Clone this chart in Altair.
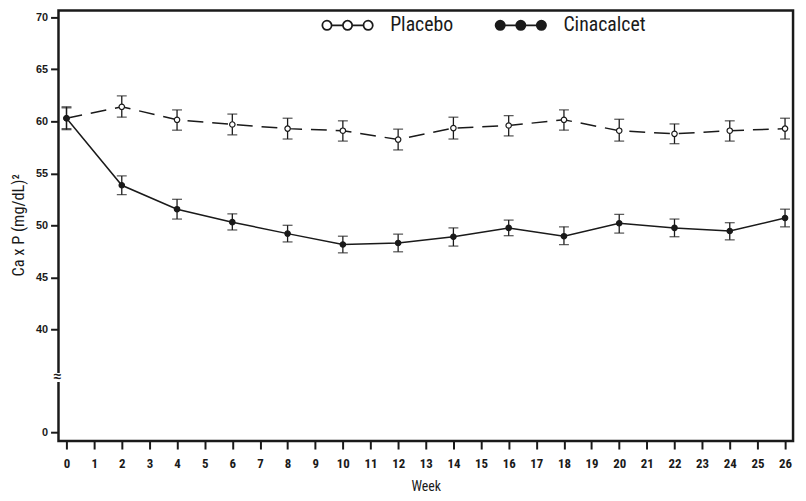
import altair as alt
import pandas as pd

weeks = [0, 2, 4, 6, 8, 10, 12, 14, 16, 18, 20, 22, 24, 26]
placebo_mean = [60.3, 61.4, 60.15, 59.7, 59.3, 59.1, 58.25, 59.35, 59.6, 60.15, 59.1, 58.8, 59.1, 59.3]
placebo_lo = [59.3, 60.4, 59.15, 58.7, 58.3, 58.1, 57.25, 58.3, 58.6, 59.15, 58.1, 57.85, 58.1, 58.3]
placebo_hi = [61.3, 62.45, 61.1, 60.7, 60.3, 60.05, 59.25, 60.4, 60.55, 61.1, 60.2, 59.75, 60.05, 60.3]
cina_mean = [60.3, 53.85, 51.55, 50.3, 49.2, 48.15, 48.3, 48.9, 49.75, 48.95, 50.2, 49.75, 49.45, 50.7]
cina_lo = [59.2, 52.95, 50.6, 49.55, 48.4, 47.35, 47.45, 48.0, 49.0, 48.15, 49.25, 48.9, 48.6, 49.85]
cina_hi = [61.4, 54.75, 52.5, 51.1, 50.0, 48.95, 49.15, 49.75, 50.5, 49.85, 51.05, 50.6, 50.25, 51.55]
groups = ["Placebo", "Cinacalcet"]
y_ticks = [0, 40, 45, 50, 55, 60, 65, 70]
x_ticks = list(range(0, 27))
break_lo, break_hi = 19.5, 23.0

rows = []
for g, m, lo, hi in [(groups[0], placebo_mean, placebo_lo, placebo_hi),
                     (groups[1], cina_mean, cina_lo, cina_hi)]:
    for w, a, b, c in zip(weeks, m, lo, hi):
        rows.append({"week": w, "group": g, "mean": a, "lo": b, "hi": c})
df = pd.DataFrame(rows)

FONT = "'Liberation Sans Narrow', 'Roboto Condensed', 'DejaVu Sans Condensed', Roboto, sans-serif"
BOLDF = "'Liberation Sans', Arial, sans-serif"
XMIN, XMAX = -0.29, 26.29

xscale = alt.Scale(domain=[XMIN, XMAX], nice=False, zero=False)
yscale = alt.Scale(domain=[0, 40, 70], range=[426, 322, 7], zero=False, nice=False)

xaxis = alt.Axis(values=x_ticks, title="Week", grid=False, domain=False,
                 tickSize=8, tickWidth=2, tickColor="#1a1a1a",
                 labelFont=FONT, labelFontSize=13, labelFontWeight="bold",
                 labelColor="#1a1a1a", labelPadding=9,
                 labelOverlap=False, labelFlush=False,
                 titleFont=FONT, titleFontSize=14, titleFontWeight="normal",
                 titleColor="#1a1a1a", titlePadding=9)
yaxis = alt.Axis(values=y_ticks, title="Ca x P (mg/dL)²", grid=False, domain=False,
                 tickSize=8, tickWidth=2, tickColor="#1a1a1a",
                 labelFont=BOLDF, labelFontSize=11, labelFontWeight="bold",
                 labelColor="#1a1a1a", labelPadding=3,
                 titleFont=FONT, titleFontSize=16.5, titleFontWeight="normal",
                 titleColor="#1a1a1a", titlePadding=9)


def X(field):
    return alt.X(field, scale=xscale, axis=xaxis, title="Week")


def Y(field):
    return alt.Y(field, scale=yscale, axis=yaxis, title="Ca x P (mg/dL)²")


base = alt.Chart(df)

line_p = base.transform_filter(alt.datum.group == "Placebo").mark_line(
    color="#1a1a1a", strokeWidth=1.5, strokeDash=[16, 9]).encode(x=X("week:Q"), y=Y("mean:Q"))
line_c = base.transform_filter(alt.datum.group == "Cinacalcet").mark_line(
    color="#1a1a1a", strokeWidth=1.5).encode(x=X("week:Q"), y=Y("mean:Q"))

err = base.mark_errorbar(color="#1a1a1a", ticks={"size": 10, "thickness": 1.3},
                         rule={"strokeWidth": 1.3}).encode(
    x=X("week:Q"), y=Y("lo:Q"), y2="hi:Q")

symbol_path = ("M-4.9,0 A0.9,0.9 0 1,0 -3.1,0 A0.9,0.9 0 1,0 -4.9,0 Z "
               "M-3.1,0 L-0.9,0 "
               "M-0.9,0 A0.9,0.9 0 1,0 0.9,0 A0.9,0.9 0 1,0 -0.9,0 Z "
               "M0.9,0 L3.1,0 "
               "M3.1,0 A0.9,0.9 0 1,0 4.9,0 A0.9,0.9 0 1,0 3.1,0 Z")

points = base.mark_point(filled=True, size=30, stroke="#1a1a1a", strokeWidth=1.2, opacity=1).encode(
    x=X("week:Q"), y=Y("mean:Q"),
    fill=alt.Fill("group:N", scale=alt.Scale(domain=groups, range=["white", "#1a1a1a"]),
                  legend=alt.Legend(title=None, orient="none", direction="horizontal",
                                    legendX=282, legendY=5,
                                    symbolType=symbol_path, symbolSize=108,
                                    symbolStrokeColor="#1a1a1a", symbolStrokeWidth=1.8,
                                    symbolOpacity=1,
                                    labelFont=FONT, labelFontSize=20, labelColor="#1a1a1a",
                                    labelOffset=33, columnPadding=38)),
)

brk = pd.DataFrame({"x": [XMIN], "lo": [break_lo], "hi": [break_hi]})
gap = alt.Chart(brk).mark_rule(color="white", strokeWidth=6).encode(
    x=X("x:Q"), y=Y("lo:Q"), y2="hi:Q")
tild = pd.DataFrame({"x": [XMIN], "y": [(break_lo + break_hi) / 2]})
tildes = alt.Chart(tild).mark_text(text="≈", fontSize=14, fontWeight="bold", color="#1a1a1a",
                                    dx=-1, baseline="middle").encode(
    x=X("x:Q"), y=Y("y:Q"))

chart = alt.layer(line_p, line_c, err, points, gap, tildes).properties(
    width=742, height=435,
    autosize=alt.AutoSizeParams(type="none"),
    padding={"left": 51, "top": 0, "right": 5, "bottom": 58},
).configure(background="white").configure_view(stroke="#1a1a1a", strokeWidth=2.5)

chart.save("out.html", embed_options={"renderer": "svg", "actions": False})
